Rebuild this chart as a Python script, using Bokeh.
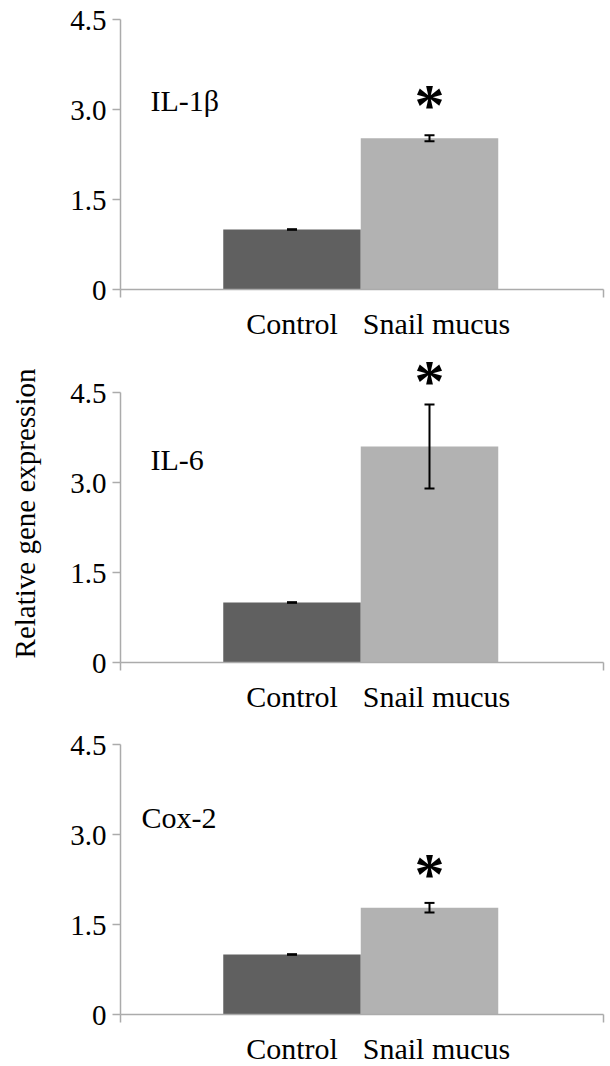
import math
from bokeh.plotting import figure
from bokeh.layouts import column
from bokeh.models import Range1d, FixedTicker, ColumnDataSource, LinearAxis
from bokeh.core.properties import value
from bokeh.embed import file_html
from bokeh.resources import INLINE

# ---- data ----
genes = ["IL-1\u03b2", "IL-6", "Cox-2"]
groups = ["Control", "Snail mucus"]
control_mean = [1.0, 1.0, 1.0]
control_err = [0.005, 0.005, 0.005]
mucus_mean = [2.52, 3.60, 1.78]
mucus_err = [0.05, 0.70, 0.08]
star_y = [3.19, 4.81, 2.46]
y_ticks = [0, 1.5, 3.0, 4.5]
y_tick_labels = ["0", "1.5", "3.0", "4.5"]
y_title = "Relative gene expression"

# ---- styling / layout ----
FONT = value("Liberation Serif")
AXIS_COLOR = "#ababab"
BAR_COLORS = ["#606060", "#b2b2b2"]
W = 610
PX_X = 137.5          # pixels per category unit
PX_Y = 60.0           # pixels per expression unit
CTRL_PX = 291.5       # pixel x of first bar centre
AX_PX, END_PX = 120, 603
X_LO, X_HI = -CTRL_PX / PX_X, (W - CTRL_PX) / PX_X
X_AX = (AX_PX - CTRL_PX) / PX_X
X_END = (END_PX - CTRL_PX) / PX_X
# per panel: figure height, pixel of y=0 from figure top, figure top in page
panels = [(344, 289, 0), (376, 318, 344), (346, 294, 720)]
label_pos = [(3.15, 30), (3.39, 30), (3.28, 21)]
TITLE_CENTER_PX = 513

figs = []
for i, gene in enumerate(genes):
    h, zero_px, top_px = panels[i]
    p = figure(width=W, height=h, output_backend="svg", toolbar_location=None,
               x_range=Range1d(X_LO, X_HI),
               y_range=Range1d(-(h - zero_px) / PX_Y, zero_px / PX_Y),
               x_axis_location=None, y_axis_location=None,
               min_border=0, min_border_left=0, min_border_right=0,
               min_border_top=0, min_border_bottom=0)
    p.outline_line_color = None
    p.background_fill_color = "white"
    p.border_fill_color = "white"
    p.xgrid.visible = False
    p.ygrid.visible = False

    means = [control_mean[i], mucus_mean[i]]
    errs = [control_err[i], mucus_err[i]]
    src = ColumnDataSource(dict(x=[0, 1], top=means, color=BAR_COLORS,
                                lo=[m - e for m, e in zip(means, errs)],
                                hi=[m + e for m, e in zip(means, errs)]))
    p.vbar(x="x", top="top", bottom=0, width=1.0, fill_color="color",
           line_color=None, source=src)
    p.segment(x0="x", y0="lo", x1="x", y1="hi", line_color="black",
              line_width=2, source=src)
    p.scatter(x="x", y="hi", marker="dash", size=10, line_width=2,
              line_color="black", source=src)
    p.scatter(x="x", y="lo", marker="dash", size=10, line_width=2,
              line_color="black", source=src)

    # axes (library axes fixed at the chart's origin)
    ya = LinearAxis(fixed_location=X_AX, bounds=(0, 4.5),
                    ticker=FixedTicker(ticks=y_ticks))
    ya.axis_line_color = AXIS_COLOR
    ya.axis_line_width = 1.5
    ya.major_tick_line_color = AXIS_COLOR
    ya.major_tick_line_width = 1.5
    ya.major_tick_out = 8
    ya.major_tick_in = 0
    ya.minor_tick_line_color = None
    ya.major_label_text_color = None
    ya.major_label_text_font_size = "0px"
    ya.major_label_standoff = 0
    p.add_layout(ya, "left")

    xa = LinearAxis(fixed_location=0, bounds=(X_AX, X_END),
                    ticker=FixedTicker(ticks=[0, 1],
                                       minor_ticks=[X_AX + 0.002, X_END - 0.002]))
    xa.axis_line_color = AXIS_COLOR
    xa.axis_line_width = 1.5
    xa.major_tick_line_color = None
    xa.major_tick_out = 0
    xa.major_tick_in = 0
    xa.minor_tick_line_color = AXIS_COLOR
    xa.minor_tick_line_width = 1.5
    xa.minor_tick_out = 8
    xa.minor_tick_in = 0
    xa.major_label_text_color = None
    xa.major_label_text_font_size = "0px"
    xa.major_label_standoff = 0
    p.add_layout(xa, "below")

    # tick labels (serif text at the axis tick positions)
    p.text(x=[X_AX] * len(y_ticks), y=y_ticks, text=y_tick_labels,
           text_font=FONT, text_font_size="29px", text_align="right",
           text_baseline="middle", x_offset=-14, y_offset=1,
           text_color="black")
    p.text(x=[0, 1], y=[0, 0], text=groups, text_font=FONT,
           text_font_size="30px", text_align="center",
           text_baseline="alphabetic", x_offset=[0, 7], y_offset=34,
           text_color="black")

    # significance star
    p.text(x=[1], y=[star_y[i]], text=["*"], text_font=FONT,
           text_font_style="bold", text_font_size="60px",
           text_align="center", text_baseline="middle", y_offset=7,
           text_color="black")

    # gene label
    ly, lx = label_pos[i]
    p.text(x=[X_AX], y=[ly], text=[gene], text_font=FONT,
           text_font_size="30px", text_align="left", text_baseline="middle",
           x_offset=lx, text_color="black")

    if i == 1:
        p.text(x=[X_AX], y=[(zero_px - (TITLE_CENTER_PX - top_px)) / PX_Y],
               text=[y_title], text_font=FONT, text_font_size="29px",
               angle=math.pi / 2, text_align="center", text_baseline="middle",
               x_offset=-(AX_PX - 24), text_color="black")

    figs.append(p)

layout = column(*figs, spacing=0)
open("out.html", "w").write(file_html(layout, INLINE))
